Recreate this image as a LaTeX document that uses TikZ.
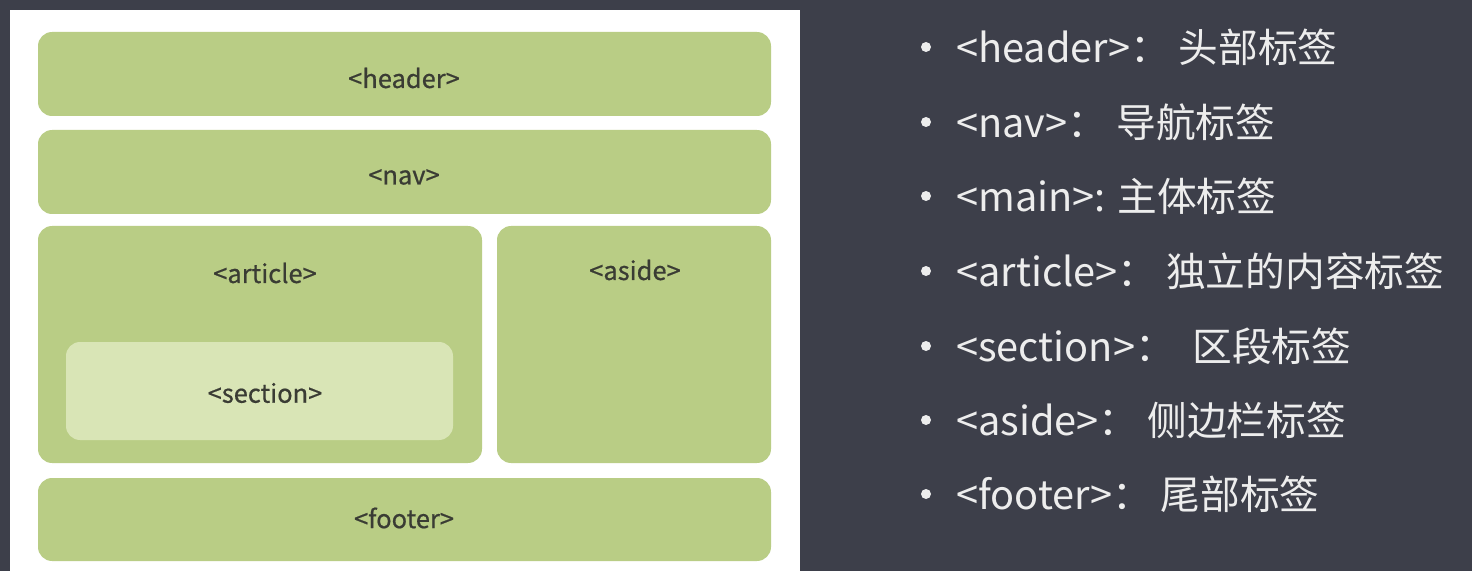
\documentclass[tikz,border=0pt]{standalone}
\usepackage{fontspec}
\setmainfont{Liberation Sans}
\newfontfamily\cjk{Noto Sans CJK SC}
\newfontfamily\cjkmed[FakeBold=0.6]{Noto Sans CJK SC}
\usetikzlibrary{positioning}
\definecolor{bgcolor}{RGB}{61, 63, 74}
\definecolor{blockcolor}{RGB}{185, 205, 133}
\definecolor{innercolor}{RGB}{217, 229, 182}
\definecolor{labelcolor}{RGB}{58, 60, 52}
\tikzstyle{block} = [rectangle, rounded corners=8pt, fill=blockcolor, draw=none]
\tikzstyle{inner} = [rectangle, rounded corners=8pt, fill=innercolor, draw=none]
\tikzstyle{tag} = [text=labelcolor, font=\cjkmed\fontsize{14.5}{17}\selectfont]
\tikzstyle{item} = [anchor=west, text=white!93!black, font=\cjk\fontsize{22.6}{27}\selectfont, inner sep=0pt]

\begin{document}
\begin{tikzpicture}[x=0.02cm, y=-0.02cm]
    % Background and white panel
    \fill[bgcolor] (0,0) rectangle (1472,571);
    \fill[white] (10,10) rectangle (800,571);
    \useasboundingbox (0,0) rectangle (1472,571);

    % Layout blocks
    \fill[block] (38,32) rectangle (771,116);
    \fill[block] (38,130) rectangle (771,214);
    \fill[block] (38,226) rectangle (482,463);
    \fill[block] (497,226) rectangle (771,463);
    \fill[inner] (66,342) rectangle (453,440);
    \fill[block] (38,478) rectangle (771,561);

    % Block labels
    \node[tag] (header) at (404,78) {<header>};
    \node[tag] (nav) at (404,177) {<nav>};
    \node[tag] (article) at (265,273) {<article>};
    \node[tag] (aside) at (635,270) {<aside>};
    \node[tag] (section) at (265,393) {<section>};
    \node[tag] (footer) at (404,518) {<footer>};

    % Legend
    \foreach \y/\txt in {47/{<header>：\ 头部标签}, 122/{<nav>：\ 导航标签},
        196/{<main>: 主体标签}, 271/{<article>：\ 独立的内容标签},
        346/{<section>：\ \ 区段标签}, 420/{<aside>：\ 侧边栏标签},
        494/{<footer>：\ 尾部标签}} {
        \fill[white!93!black] (926,\y) circle (5);
        \node[item] at (956,\y) {\txt};
    }
\end{tikzpicture}
\end{document}
